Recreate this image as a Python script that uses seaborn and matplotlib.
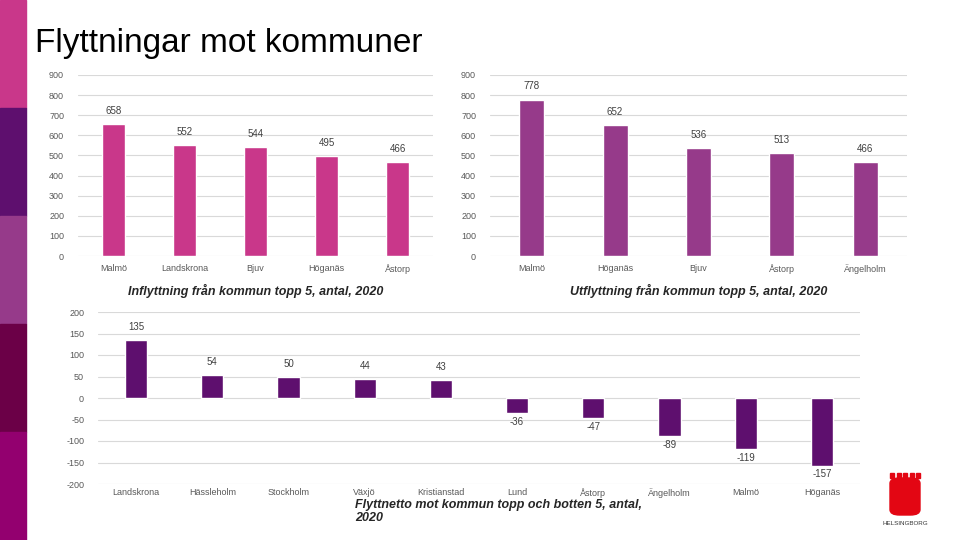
import matplotlib
matplotlib.use("Agg")
import matplotlib.pyplot as plt
import matplotlib.patches as mpatches
import seaborn as sns

# Data
in_kommuner = ["Malmö", "Landskrona", "Bjuv", "Höganäs", "Åstorp"]
in_antal = [658, 552, 544, 495, 466]

ut_kommuner = ["Malmö", "Höganäs", "Bjuv", "Åstorp", "Ängelholm"]
ut_antal = [778, 652, 536, 513, 466]

netto_kommuner = ["Landskrona", "Hässleholm", "Stockholm", "Växjö", "Kristianstad",
                  "Lund", "Åstorp", "Ängelholm", "Malmö", "Höganäs"]
netto_antal = [135, 54, 50, 44, 43, -36, -47, -89, -119, -157]

sns.set_theme(style="white")
plt.rcParams["font.family"] = ["Liberation Sans", "DejaVu Sans"]
plt.rcParams["axes.unicode_minus"] = False

fig = plt.figure(figsize=(9.6, 5.4), dpi=100)

# vänster färgremsa
strip = ["#c9378a", "#5e0f6e", "#963a8a", "#6b0047", "#93006f"]
for i, c in enumerate(strip):
    fig.patches.append(mpatches.Rectangle((0, 1 - (i + 1) / 5), 26 / 960, 1 / 5,
                                          transform=fig.transFigure, color=c, zorder=0))

fig.text(35 / 960, 1 - 52 / 540, "Flyttningar mot kommuner", fontsize=24, color="black")

grid_c = "#d9d9d9"
tick_c = "#595959"


def style_ax(ax, ticks, xpad):
    ax.set_yticks(ticks)
    ax.yaxis.grid(True, color=grid_c, linewidth=0.8)
    ax.set_axisbelow(True)
    for s in ax.spines.values():
        s.set_visible(False)
    ax.set_xlabel("")
    ax.set_ylabel("")
    ax.tick_params(axis="both", length=0, labelsize=6.5, labelcolor=tick_c)
    ax.tick_params(axis="y", pad=10)
    ax.tick_params(axis="x", pad=xpad)


# Inflyttning
ax1 = fig.add_axes([78 / 960, 1 - 256 / 540, 355 / 960, 181 / 540])
sns.barplot(x=in_kommuner, y=in_antal, color="#c9378a", width=0.31, saturation=1, ax=ax1)
ax1.set_ylim(0, 900)
style_ax(ax1, range(0, 901, 100), 6)
for i, v in enumerate(in_antal):
    ax1.text(i, v + 40, str(v), ha="center", va="bottom", fontsize=7, color="#404040")
ax1.set_title("Inflyttning från kommun topp 5, antal, 2020", y=-0.2, fontsize=9,
              fontweight="bold", fontstyle="italic", va="top")

# Utflyttning
ax2 = fig.add_axes([490 / 960, 1 - 256 / 540, 417 / 960, 181 / 540])
sns.barplot(x=ut_kommuner, y=ut_antal, color="#963a8a", width=0.3, saturation=1, ax=ax2)
ax2.set_ylim(0, 900)
style_ax(ax2, range(0, 901, 100), 6)
for i, v in enumerate(ut_antal):
    ax2.text(i, v + 40, str(v), ha="center", va="bottom", fontsize=7, color="#404040")
ax2.set_title("Utflyttning från kommun topp 5, antal, 2020", y=-0.2, fontsize=9,
              fontweight="bold", fontstyle="italic", va="top")

# Flyttnetto
ax3 = fig.add_axes([98 / 960, 1 - 484 / 540, 762 / 960, 172 / 540])
sns.barplot(x=netto_kommuner, y=netto_antal, color="#5e0f6e", width=0.29, saturation=1, ax=ax3)
ax3.set_ylim(-200, 200)
style_ax(ax3, range(-200, 201, 50), 3)
for i, v in enumerate(netto_antal):
    if v >= 0:
        ax3.text(i, v + 18, str(v), ha="center", va="bottom", fontsize=7, color="#404040")
    else:
        ax3.text(i, v - 8, str(v), ha="center", va="top", fontsize=7, color="#404040")
fig.text(355 / 960, 1 - 499 / 540, "Flyttnetto mot kommun topp och botten 5, antal,\n2020",
         fontsize=9, fontweight="bold", fontstyle="italic", va="top", linespacing=1.1)

# logga (förenklad)
red = "#e30613"
fig.patches.append(mpatches.FancyBboxPatch((890 / 960, 1 - 515 / 540), 30 / 960, 37 / 540,
                                           boxstyle="round,pad=0,rounding_size=0.01",
                                           transform=fig.transFigure, color=red))
for k in range(5):
    fig.patches.append(mpatches.Rectangle(((890 + k * 6.5) / 960, 1 - 478 / 540), 4 / 960, 5 / 540,
                                          transform=fig.transFigure, color=red))
fig.text(905 / 960, 1 - 521 / 540, "HELSINGBORG", fontsize=4.5, ha="center", va="top", color="#333333")

fig.savefig("out.png", dpi=100)
